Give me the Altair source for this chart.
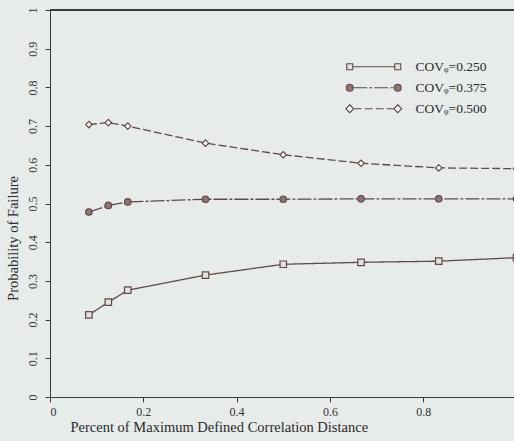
import altair as alt
import pandas as pd

# ---- data ----
x_vals = [0.0833, 0.125, 0.1667, 0.3333, 0.5, 0.6667, 0.8333, 1.0]
cov_250 = [0.212, 0.245, 0.276, 0.315, 0.343, 0.348, 0.351, 0.360]
cov_375 = [0.478, 0.495, 0.504, 0.511, 0.511, 0.512, 0.512, 0.512]
cov_500 = [0.704, 0.709, 0.700, 0.656, 0.626, 0.604, 0.592, 0.590]
series_names = ["COVᵩ=0.250", "COVᵩ=0.375", "COVᵩ=0.500"]
x_ticks = [0, 0.2, 0.4, 0.6, 0.8]
y_ticks = [0, 0.1, 0.2, 0.3, 0.4, 0.5, 0.6, 0.7, 0.8, 0.9, 1.0]

rows = []
for name, vals in zip(series_names, [cov_250, cov_375, cov_500]):
    for xv, yv in zip(x_vals, vals):
        rows.append({"x": xv, "y": yv, "series": name})
df = pd.DataFrame(rows)

# ---- styling ----
FONT = "Liberation Serif"
LINE_C = "#624845"
AXIS_C = "#3a3a3a"
BG = "#e7ebea"
dash_patterns = [[1, 0], [14, 2, 3, 2], [8, 3]]
fills = ["#e2e2e0", "#8f7571", "#fafafa"]


# legend symbols: custom paths (line with a marker at each end), unit = 5 px
def dashed_segment(x0, x1, pattern):
    if pattern == [1, 0]:
        return f"M{x0:.2f},0L{x1:.2f},0"
    segs, pos, i, on = [], x0, 0, True
    while pos < x1:
        ln = pattern[i % len(pattern)] / 5.0
        end = min(pos + ln, x1)
        if on:
            segs.append(f"M{pos:.2f},0L{end:.2f},0")
        pos = end
        on = not on
        i += 1
    return "".join(segs)


def square(c, h=0.6):
    return f"M{c-h:.2f},{-h}h{2*h}v{2*h}h{-2*h}Z"


def circle(c, r=0.7):
    return f"M{c+r:.2f},0A{r},{r} 0 1,1 {c-r:.2f},0A{r},{r} 0 1,1 {c+r:.2f},0Z"


def diamond(c, h=0.8):
    return f"M{c:.2f},{-h}L{c+h:.2f},0L{c:.2f},{h}L{c-h:.2f},0Z"


L = 9.6
legend_paths = [
    square(0) + dashed_segment(0.6, L - 0.6, dash_patterns[0]) + square(L),
    circle(0) + dashed_segment(0.7, L - 0.7, dash_patterns[1]) + circle(L),
    diamond(0) + dashed_segment(0.8, L - 0.8, dash_patterns[2]) + diamond(L),
]
legend_fill_expr = (
    f"datum.value === '{series_names[1]}' ? '{fills[1]}' : "
    f"(datum.value === '{series_names[2]}' ? '{fills[2]}' : '{fills[0]}')"
)

x_scale = alt.Scale(domain=[0, 0.9946], nice=False, zero=False)
y_scale = alt.Scale(domain=[0, 1], nice=False)

x_axis = alt.Axis(
    values=x_ticks,
    format="~g",
    labelOverlap=False,
    title="Percent of Maximum Defined Correlation Distance",
    titleAlign="left",
    titleAnchor="start",
    titleX=20,
    titleY=34,
    titleBaseline="alphabetic",
    labelPadding=4,
)
y_axis = alt.Axis(
    values=y_ticks,
    tickCount=11,
    format="~g",
    labelOverlap=False,
    title="Probability of Failure",
    labelAngle=270,
    labelAlign="center",
    labelBaseline="middle",
    labelPadding=13,
    titleAngle=270,
    titleAlign="center",
    titleX=-33,
    titleY=228,
    titleBaseline="alphabetic",
)


def xe():
    return alt.X("x:Q", scale=x_scale, axis=x_axis)


def ye():
    return alt.Y("y:Q", scale=y_scale, axis=y_axis)


dash_scale = alt.Scale(domain=series_names, range=dash_patterns)
fill_scale = alt.Scale(domain=series_names, range=fills)

lines = alt.Chart(df).mark_line(color=LINE_C, strokeWidth=1.3).encode(
    x=xe(),
    y=ye(),
    strokeDash=alt.StrokeDash("series:N", scale=dash_scale, legend=None),
    detail="series:N",
)

points = alt.Chart(df).mark_point(color=LINE_C, size=42, strokeWidth=1.2, opacity=1).encode(
    x=xe(),
    y=ye(),
    shape=alt.Shape(
        "series:N",
        scale=alt.Scale(domain=series_names, range=["square", "circle", "diamond"]),
        legend=None,
    ),
    fill=alt.Fill("series:N", scale=fill_scale, legend=None),
)

legend_layer = (
    alt.Chart(df)
    .transform_filter("false")
    .mark_point(color=LINE_C, strokeWidth=1.1, opacity=1)
    .encode(
        x=xe(),
        y=ye(),
        shape=alt.Shape(
            "series:N",
            scale=alt.Scale(domain=series_names, range=legend_paths),
            legend=alt.Legend(
                title=None,
                orient="none",
                legendX=293,
                legendY=50,
                symbolSize=100,
                symbolStrokeWidth=1.1,
                symbolStrokeColor=LINE_C,
                symbolFillColor=alt.ExprRef(legend_fill_expr),
                labelOffset=59,
                labelFont=FONT,
                labelFontSize=13.5,
                labelColor="#2a2a2a",
                rowPadding=6,
                padding=0,
            ),
        ),
        fill=alt.Fill("series:N", scale=fill_scale, legend=None),
    )
)

top_frame = alt.Chart(df).mark_rule(color=AXIS_C, strokeWidth=1).encode(
    x=alt.value(0), x2=alt.value(464), y=alt.value(0)
)

chart = (
    alt.layer(lines, points, legend_layer, top_frame)
    .resolve_scale(shape="independent")
    .properties(
        width=464,
        height=387,
        autosize=alt.AutoSizeParams(type="none"),
        padding={"left": 50, "top": 10, "right": 0, "bottom": 44},
        background=BG,
    )
    .configure_view(stroke=None)
    .configure_axis(
        grid=False,
        labelOverlap=False,
        domainColor=AXIS_C,
        tickColor=AXIS_C,
        tickSize=5,
        labelFont=FONT,
        labelFontSize=12,
        labelColor="#333333",
        titleFont=FONT,
        titleFontSize=14.5,
        titleFontWeight="normal",
        titleColor="#2a2a2a",
    )
)

chart.save("out.html", embed_options={"renderer": "svg", "actions": False})
